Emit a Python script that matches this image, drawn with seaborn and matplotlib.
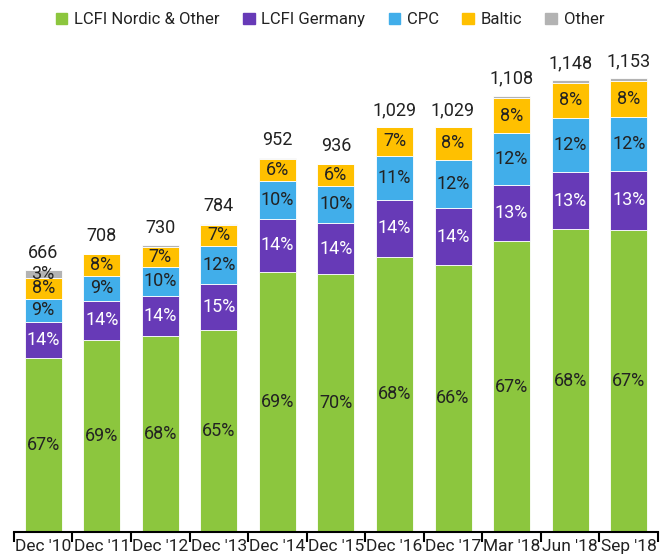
import numpy as np
import pandas as pd
import matplotlib
matplotlib.use('Agg')
import matplotlib.pyplot as plt
import seaborn as sns

periods = ["Dec '10", "Dec '11", "Dec '12", "Dec '13", "Dec '14", "Dec '15",
           "Dec '16", "Dec '17", "Mar '18", "Jun '18", "Sep '18"]
totals = [666, 708, 730, 784, 952, 936, 1029, 1029, 1108, 1148, 1153]

# shares in % as labelled on the chart (other: small slivers estimated)
nordic = [67, 69, 68, 65, 69, 70, 68, 66, 67, 68, 67]
germany = [14, 14, 14, 15, 14, 14, 14, 14, 13, 13, 13]
cpc = [9, 9, 10, 12, 10, 10, 11, 12, 12, 12, 12]
baltic = [8, 8, 7, 7, 6, 6, 7, 8, 8, 8, 8]
other = [3, 0, 0.6, 0.3, 0.3, 0, 0, 0, 0.5, 0.5, 0.5]

series = ['LCFI Nordic & Other', 'LCFI Germany', 'CPC', 'Baltic', 'Other']
colors = ['#8cc63e', '#673ab7', '#41aeea', '#ffc000', '#b3b3b3']
text_colors = ['#222222', 'white', '#222222', '#222222', '#222222']

sns.set_style('white')
plt.rcParams['font.family'] = ['Roboto', 'DejaVu Sans']

shares = pd.DataFrame({'period': periods, series[0]: nordic, series[1]: germany,
                       series[2]: cpc, series[3]: baltic, series[4]: other})
share_sum = shares[series].sum(axis=1)
heights = shares[series].div(share_sum, axis=0).mul(totals, axis=0)

fig = plt.figure(figsize=(6.6, 5.6), dpi=100)
ax = fig.add_axes([0.021, 0.05, 0.976, 0.878])

# stacked bars, one layer per series
bottom = np.zeros(len(periods))
for i, s in enumerate(series):
    sns.barplot(x=shares['period'], y=heights[s].values, color=colors[i], bottom=bottom,
                width=0.63, errorbar=None, ax=ax, edgecolor='white', linewidth=0.6,
                saturation=1)
    for j in range(len(periods)):
        pct = shares[s][j]
        if pct >= 2:
            ax.text(j, bottom[j] + heights[s][j] / 2, f'{pct:g}%', ha='center', va='center',
                    fontsize=13, color=text_colors[i])
    bottom = bottom + heights[s].values

for j, t in enumerate(totals):
    ax.annotate(f'{t:,}', (j, t), xytext=(0, 6), textcoords='offset points',
                ha='center', va='bottom', fontsize=13, color='#222222')

ax.set_xlim(-0.5, len(periods) - 0.5)
ax.set_ylim(0, 1250)
ax.set_yticks([])
ax.set_xlabel('')
ax.set_ylabel('')
for side in ['top', 'right', 'left']:
    ax.spines[side].set_visible(False)
ax.spines['bottom'].set_color('black')
ax.spines['bottom'].set_linewidth(1.5)
ax.set_xticks(np.arange(-0.5, len(periods), 1), minor=True)
ax.tick_params(axis='x', which='major', length=0, labelsize=12.5, pad=5, colors='#222222')
ax.tick_params(axis='x', which='minor', length=7, width=1.5, color='black', bottom=True)

handles = [plt.Rectangle((0, 0), 1, 1, color=c) for c in colors]
fig.legend(handles, series, loc='upper center', bbox_to_anchor=(0.5, 1.005), ncol=5,
           frameon=False, fontsize=12, handlelength=0.7, handleheight=0.7,
           handletextpad=0.4, columnspacing=1.4, labelcolor='#222222')

fig.savefig('out.png', dpi=100)
